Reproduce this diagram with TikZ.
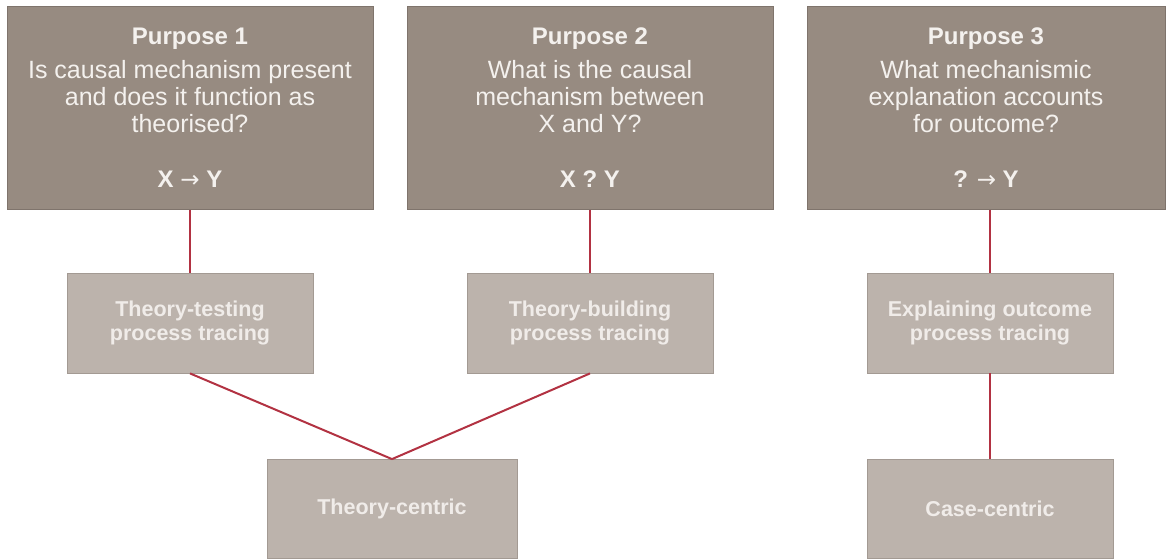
\documentclass[tikz,border=0pt]{standalone}
\usepackage{fontspec}
\setmainfont{Liberation Sans}
\newfontfamily\arrowfont{DejaVu Sans}
\newcommand{\rarr}{{\arrowfont\mdseries\fontsize{23}{27}\selectfont →}}
\definecolor{topfill}{HTML}{978B81}
\definecolor{topdraw}{HTML}{7F746C}
\definecolor{midfill}{HTML}{BCB3AC}
\definecolor{middraw}{HTML}{A39A93}
\definecolor{linkred}{HTML}{B23242}
\definecolor{toptext}{HTML}{F4F1EE}
\definecolor{midtext}{HTML}{F0ECE9}
\begin{document}
\begin{tikzpicture}[x=1pt,y=-1pt,
  purposebox/.style={draw=topdraw,fill=topfill,line width=1pt,minimum width=366pt,minimum height=202pt,inner sep=0pt,align=center,text=toptext,font=\fontsize{25}{27}\selectfont},
  methodbox/.style={draw=middraw,fill=midfill,line width=0.8pt,minimum width=246pt,minimum height=100pt,inner sep=0pt,align=center,text=midtext,font=\fontsize{21.5}{24}\selectfont\bfseries},
  link/.style={draw=linkred,line width=2pt}]
\useasboundingbox (0,0) rectangle (1168,559);
\node[purposebox] (p1) at (190,108) {{\bfseries\fontsize{24}{27}\selectfont Purpose 1}\\[7pt]Is causal mechanism present\\and does it function as\\theorised?\\[28pt]{\bfseries\fontsize{24}{27}\selectfont X \rarr{} Y}};
\node[purposebox] (p2) at (590,108) {{\bfseries\fontsize{24}{27}\selectfont Purpose 2}\\[7pt]What is the causal\\mechanism between\\X and Y?\\[28pt]{\bfseries\fontsize{24}{27}\selectfont X ? Y}};
\node[purposebox,minimum width=358pt] (p3) at (986,108) {{\bfseries\fontsize{24}{27}\selectfont Purpose 3}\\[7pt]What mechanismic\\explanation accounts\\for outcome?\\[28pt]{\bfseries\fontsize{24}{27}\selectfont ? \rarr{} Y}};
\node[methodbox] (m1) at (190,323) {Theory-testing\\process tracing};
\node[methodbox] (m2) at (590,323) {Theory-building\\process tracing};
\node[methodbox] (m3) at (990,323) {Explaining outcome\\process tracing};
\node[methodbox,minimum width=250pt,minimum height=99pt] (c1) at (392,509) {Theory-centric};
\node[methodbox,minimum height=99pt] (c2) at (990,509) {Case-centric};
\draw[link] (p1.south -| m1) -- (m1.north);
\draw[link] (p2.south -| m2) -- (m2.north);
\draw[link] (p3.south -| m3) -- (m3.north);
\draw[link] (m1.south) -- (c1.north);
\draw[link] (m2.south) -- (c1.north);
\draw[link] (m3.south) -- (c2.north);
\end{tikzpicture}
\end{document}
